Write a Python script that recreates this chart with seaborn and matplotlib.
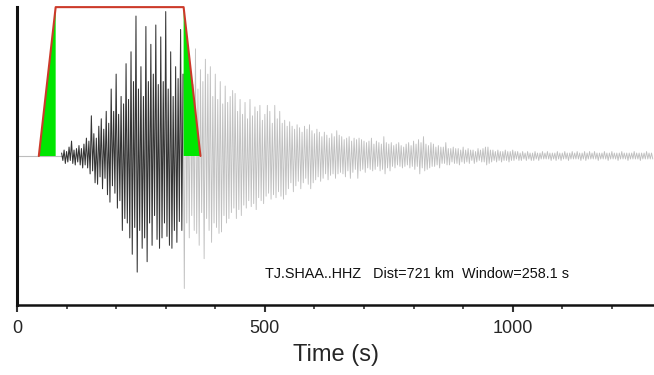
import numpy as np
import pandas as pd
import matplotlib
matplotlib.use("Agg")
import matplotlib.pyplot as plt
import seaborn as sns

# ---- data ----
station_label = "TJ.SHAA..HHZ   Dist=721 km  Window=258.1 s"
trace_start = 90.0      # s
trace_dt = 2.5          # s between samples
window_start = 78.0     # s
window_length = 258.1   # s
taper = 34.0            # s (ramp length)
xticks_major = [0, 500, 1000]
xtick_labels = ["0", "500", "1000"]

amplitudes = [
    0.02, -0.03, 0.04, -0.05, 0.03, -0.04, 0.06, -0.03, 0.10, -0.05, 0.04, -0.06, 0.05, -0.04, 0.07, -0.06, 0.05, -0.08, 0.08, -0.06,
    0.12, -0.08, 0.10, -0.12, 0.27, -0.10, 0.15, -0.18, 0.12, -0.19, 0.20, -0.14, 0.25, -0.22, 0.18, -0.15, 0.30, -0.26, 0.22, -0.31,
    0.45, -0.20, 0.30, -0.25, 0.55, -0.35, 0.28, -0.30, 0.40, -0.50, 0.35, -0.42, 0.62, -0.45, 0.38, -0.55, 0.70, -0.66, 0.50, -0.48,
    0.94, -0.78, 0.45, -0.50, 0.60, -0.62, 0.40, -0.55, 0.87, -0.71, 0.50, -0.45, 0.75, -0.60, 0.55, -0.40, 0.88, -0.56, 0.48, -0.62,
    0.80, -0.55, 0.50, -0.45, 0.97, -0.54, 0.45, -0.60, 0.70, -0.62, 0.40, -0.50, 0.60, -0.58, 0.52, -0.44, 0.85, -0.50, 0.55, -0.89,
    0.72, -0.45, 0.50, -0.55, 0.60, -0.40, 0.48, -0.50, 0.72, -0.52, 0.45, -0.60, 0.58, -0.38, 0.50, -0.69, 0.65, -0.42, 0.55, -0.50,
    0.60, -0.58, 0.40, -0.45, 0.55, -0.48, 0.38, -0.52, 0.50, -0.51, 0.35, -0.40, 0.47, -0.45, 0.36, -0.42, 0.40, -0.38, 0.44, -0.35,
    0.42, -0.42, 0.30, -0.36, 0.38, -0.40, 0.28, -0.33, 0.36, -0.35, 0.25, -0.30, 0.38, -0.34, 0.27, -0.32, 0.33, -0.36, 0.30, -0.28,
    0.34, -0.30, 0.24, -0.32, 0.28, -0.27, 0.34, -0.25, 0.30, -0.29, 0.22, -0.26, 0.34, -0.28, 0.25, -0.24, 0.30, -0.27, 0.22, -0.29,
    0.24, -0.26, 0.20, -0.22, 0.23, -0.18, 0.20, -0.24, 0.18, -0.20, 0.21, -0.17, 0.19, -0.22, 0.16, -0.18, 0.20, -0.15, 0.18, -0.19,
    0.21, -0.22, 0.17, -0.18, 0.15, -0.16, 0.18, -0.14, 0.16, -0.17, 0.13, -0.15, 0.16, -0.12, 0.14, -0.16, 0.12, -0.13, 0.15, -0.12,
    0.13, -0.15, 0.17, -0.12, 0.14, -0.11, 0.13, -0.12, 0.11, -0.14, 0.12, -0.10, 0.13, -0.15, 0.10, -0.11, 0.12, -0.09, 0.11, -0.15,
    0.12, -0.10, 0.11, -0.09, 0.10, -0.11, 0.09, -0.08, 0.10, -0.09, 0.12, -0.10, 0.08, -0.09, 0.10, -0.07, 0.09, -0.10, 0.08, -0.09,
    0.13, -0.12, 0.09, -0.08, 0.08, -0.10, 0.09, -0.07, 0.07, -0.08, 0.08, -0.06, 0.09, -0.07, 0.07, -0.08, 0.06, -0.07, 0.08, -0.06,
    0.09, -0.08, 0.07, -0.07, 0.10, -0.09, 0.08, -0.07, 0.11, -0.12, 0.09, -0.08, 0.13, -0.10, 0.08, -0.09, 0.07, -0.08, 0.09, -0.07,
    0.08, -0.07, 0.06, -0.06, 0.07, -0.08, 0.06, -0.05, 0.06, -0.05, 0.09, -0.06, 0.05, -0.06, 0.05, -0.04, 0.06, -0.05, 0.05, -0.05,
    0.05, -0.06, 0.04, -0.04, 0.06, -0.05, 0.04, -0.04, 0.05, -0.05, 0.04, -0.03, 0.04, -0.05, 0.03, -0.04, 0.05, -0.03, 0.04, -0.04,
    0.05, -0.04, 0.06, -0.06, 0.06, -0.05, 0.04, -0.04, 0.04, -0.03, 0.03, -0.04, 0.04, -0.03, 0.03, -0.04, 0.03, -0.03, 0.04, -0.03,
    0.03, -0.04, 0.03, -0.03, 0.04, -0.03, 0.03, -0.02, 0.03, -0.03, 0.02, -0.03, 0.03, -0.02, 0.02, -0.03, 0.03, -0.02, 0.02, -0.03,
    0.02, -0.03, 0.03, -0.02, 0.02, -0.03, 0.02, -0.02, 0.03, -0.02, 0.02, -0.02, 0.03, -0.02, 0.02, -0.03, 0.02, -0.02, 0.02, -0.03,
    0.03, -0.02, 0.02, -0.03, 0.02, -0.02, 0.03, -0.02, 0.02, -0.03, 0.02, -0.02, 0.03, -0.02, 0.02, -0.02, 0.03, -0.02, 0.02, -0.03,
    0.02, -0.02, 0.03, -0.03, 0.02, -0.02, 0.03, -0.02, 0.02, -0.02, 0.03, -0.02, 0.02, -0.03, 0.02, -0.02, 0.02, -0.02, 0.03, -0.02,
    0.02, -0.03, 0.02, -0.02, 0.03, -0.02, 0.02, -0.02, 0.02, -0.03, 0.02, -0.02, 0.03, -0.02, 0.02, -0.02, 0.02, -0.03, 0.02, -0.02,
    0.02, -0.02, 0.03, -0.02, 0.02, -0.02, 0.02, -0.03, 0.02, -0.02, 0.02, -0.02, 0.03, -0.02, 0.02, -0.02, 0.02, -0.02,
]

# ---- build frames ----
times = trace_start + trace_dt * np.arange(len(amplitudes))
df = pd.DataFrame({"t": times, "a": amplitudes})
window_end = window_start + window_length
inside = df[df.t <= window_end]
outside = df[df.t >= inside.t.max()]

sns.set_style("ticks")
plt.rcParams["font.family"] = ["Liberation Sans", "DejaVu Sans"]

fig = plt.figure(figsize=(6.54, 3.75), dpi=100)
ax = fig.add_axes([0.026, 0.187, 0.974, 0.794])

# pre-event flat baseline
sns.lineplot(x=[0, trace_start], y=[0, 0], ax=ax, color="#bdbdbd", lw=0.8,
             estimator=None, sort=False)
sns.lineplot(data=outside, x="t", y="a", ax=ax, color="#c0c0c0", lw=0.65,
             estimator=None, sort=False)
sns.lineplot(data=inside, x="t", y="a", ax=ax, color="#111111", lw=0.75,
             alpha=0.85, estimator=None, sort=False)

# window taper (trapezoid) with green ramps
x0 = window_start - taper
x3 = window_end + taper
ax.fill([x0, window_start, window_start], [0, 1, 0], color="#00e600", lw=0, zorder=4)
ax.fill([window_end, window_end, x3], [0, 1, 0], color="#00e600", lw=0, zorder=4)
ax.plot([x0, window_start, window_end, x3], [0, 1, 1, 0],
        color="#cc3a2a", lw=1.5, zorder=5, clip_on=False)

ax.text(500, -0.79, station_label, fontsize=10.4, ha="left", va="center",
        color="#111111")

ax.set_xlim(0, 1285)
ax.set_ylim(-1, 1)
ax.set_yticks([])
ax.set_xticks(xticks_major)
ax.set_xticklabels(xtick_labels, fontsize=13)
ax.set_xticks(np.arange(100, 1285, 100), minor=True)
ax.tick_params(axis="x", which="major", length=5, width=1.5, pad=6, color="#333333")
ax.tick_params(axis="x", which="minor", length=3, width=1.2, color="#333333")
ax.set_xlabel("Time (s)", fontsize=17, labelpad=5)
ax.set_ylabel("")

for s in ["top", "right"]:
    ax.spines[s].set_visible(False)
ax.spines["left"].set_linewidth(2.2)
ax.spines["bottom"].set_linewidth(1.8)
ax.spines["left"].set_color("#111111")
ax.spines["bottom"].set_color("#111111")

fig.savefig("out.png", dpi=100)
